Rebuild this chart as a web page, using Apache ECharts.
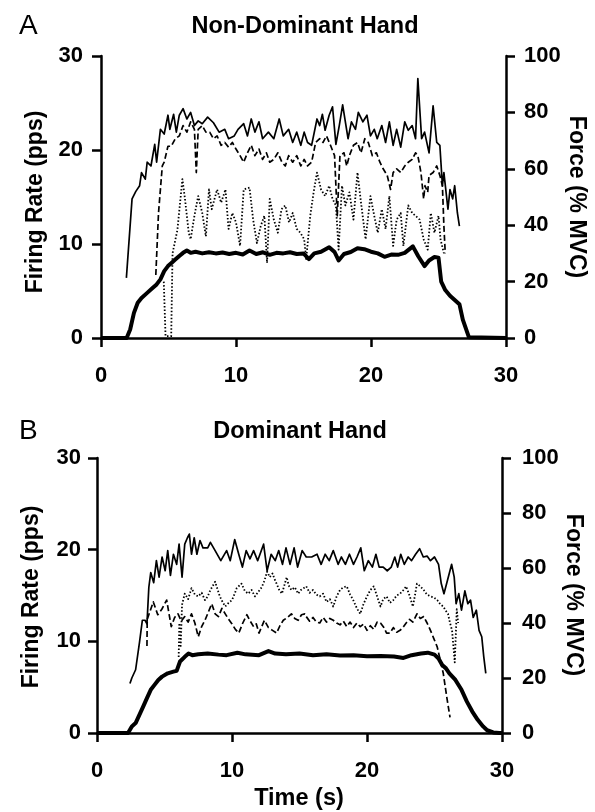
<!DOCTYPE html>
<html>
<head>
<meta charset="utf-8">
<script src="https://cdn.jsdelivr.net/npm/echarts@6/dist/echarts.min.js"></script>
<style>
html,body{margin:0;padding:0;background:#fff;}
#chart{width:595px;height:812px;}
</style>
</head>
<body>
<div id="chart"></div>
<script>
// ---------- Data (time s, value) ----------
const xTicks = [0, 10, 20, 30];
const frTicks = [0, 10, 20, 30];
const forceTicks = [0, 20, 40, 60, 80, 100];

// Panel A: Non-Dominant Hand (firing rate pps)
const unit1A = [[1.88,6.4],[2.3,14.8],[2.58,15.6],[2.86,16.2],[3.0,17.6],[3.28,16.9],[3.42,18.7],[3.7,18.3],[3.98,20.6],[4.12,18.7],[4.4,22.2],[4.68,21.7],[4.96,23.7],[5.1,22.2],[5.38,23.8],[5.58,21.9],[5.8,23.7],[6.08,24.4],[6.36,23.3],[6.64,24.0],[6.92,22.6],[7.2,23.1],[7.5,22.8],[7.9,23.5],[8.33,22.9],[8.75,21.9],[9.17,22.2],[9.45,21.2],[9.87,21.5],[10.15,22.2],[10.57,22.8],[10.85,21.5],[11.13,23.3],[11.4,21.9],[11.7,23.0],[11.97,21.2],[12.4,21.9],[12.8,21.2],[13.2,23.3],[13.5,21.5],[13.9,22.2],[14.2,20.8],[14.5,21.9],[14.8,20.5],[15.05,21.9],[15.3,20.8],[15.6,20.5],[16.0,23.3],[16.2,22.6],[16.4,23.8],[16.6,22.1],[16.9,23.7],[17.15,24.6],[17.4,20.6],[17.65,22.6],[17.9,24.8],[18.3,21.2],[18.55,23.0],[18.85,22.2],[19.06,24.0],[19.4,23.0],[19.7,23.7],[19.96,21.5],[20.24,22.2],[20.46,21.2],[20.8,22.6],[21.08,20.8],[21.36,23.0],[21.64,20.5],[21.9,22.2],[22.2,20.3],[22.5,23.0],[22.76,22.1],[23.05,22.6],[23.3,21.2],[23.47,27.6],[23.75,21.2],[23.97,21.9],[24.3,19.7],[24.6,24.7],[24.87,20.8],[25.1,20.5],[25.29,16.2],[25.4,17.6],[25.7,13.7],[25.85,15.8],[26.05,14.8],[26.2,16.2],[26.4,13.3],[26.55,11.9]];
const unit2A = [[4.06,6.7],[4.26,13.3],[4.54,18.3],[4.68,18.7],[4.96,20.4],[5.2,20.4],[5.5,21.2],[5.8,21.5],[6.08,22.6],[6.36,21.9],[6.64,23.0],[6.92,22.2],[7.06,17.6],[7.2,22.2],[7.5,22.6],[7.77,21.9],[8.05,21.9],[8.33,21.2],[8.6,21.5],[8.9,20.5],[9.17,20.8],[9.45,20.3],[9.73,20.8],[10.0,20.1],[10.3,19.4],[10.57,18.7],[10.85,19.7],[11.13,20.5],[11.4,19.4],[11.7,20.1],[11.97,19.0],[12.25,19.7],[12.5,18.7],[12.8,19.0],[13.1,19.7],[13.4,18.7],[13.65,18.3],[13.9,19.4],[14.2,18.7],[14.5,19.4],[14.8,18.3],[15.05,19.0],[15.3,18.3],[15.6,18.7],[15.9,20.8],[16.2,21.2],[16.45,20.8],[16.7,21.5],[17.0,20.5],[17.3,19.4],[17.5,13.0],[17.7,19.4],[18.0,19.7],[18.2,18.3],[18.4,19.4],[18.7,20.5],[19.0,20.8],[19.26,19.7],[19.54,21.2],[19.8,20.8],[20.1,19.4],[20.4,19.7],[20.66,18.7],[20.9,18.0],[21.2,17.3],[21.45,15.8],[21.64,17.6],[21.9,18.0],[22.2,17.6],[22.5,18.3],[22.76,18.7],[23.05,19.0],[23.3,19.7],[23.47,19.4],[23.7,17.6],[23.9,14.8],[24.0,16.2],[24.2,15.5],[24.3,17.3],[24.6,17.6],[24.87,18.3],[25.1,17.3],[25.29,16.2],[25.4,11.9],[25.5,9.0]];
const unit3A = [[4.65,6.0],[4.78,0.2],[5.2,0.2],[5.3,9.0],[5.66,11.5],[6.03,16.9],[6.22,14.8],[6.5,11.2],[6.64,10.5],[6.92,13.0],[7.2,15.1],[7.5,13.3],[7.77,10.8],[8.0,15.8],[8.2,13.7],[8.6,15.8],[8.9,14.4],[9.22,15.8],[9.45,11.6],[9.73,13.3],[10.0,12.3],[10.3,9.8],[10.57,15.8],[11.0,16.0],[11.27,12.6],[11.55,10.1],[11.83,11.9],[12.1,13.0],[12.3,8.0],[12.5,14.8],[12.8,12.6],[13.1,11.2],[13.37,13.7],[13.65,14.1],[13.93,12.3],[14.2,13.3],[14.5,11.6],[14.77,11.2],[15.05,10.5],[15.2,8.4],[15.5,13.0],[15.75,15.5],[16.0,17.6],[16.3,15.8],[16.6,15.1],[16.9,16.2],[17.15,14.8],[17.4,14.1],[17.6,9.4],[17.85,16.2],[18.1,14.1],[18.4,15.5],[18.7,12.6],[19.0,17.6],[19.26,14.4],[19.6,10.5],[19.96,15.1],[20.24,13.0],[20.5,11.2],[20.8,13.7],[21.08,11.6],[21.36,15.1],[21.64,9.8],[21.9,12.6],[22.2,13.3],[22.4,9.8],[22.76,14.1],[23.05,13.3],[23.3,13.0],[23.6,12.6],[23.9,10.5],[24.2,9.4],[24.43,13.3],[24.7,11.2],[25.0,13.0],[25.15,10.5],[25.4,9.0]];
// force % MVC
const forceA = [[0,0],[1.9,0],[2.16,3.0],[2.44,8.9],[2.72,12.5],[3.0,14.2],[3.42,16.0],[3.84,17.8],[4.12,19.0],[4.4,20.8],[4.68,23.7],[4.96,25.5],[5.24,26.7],[5.52,27.9],[5.8,29.1],[6.08,30.2],[6.36,31.0],[6.64,30.2],[7.0,30.6],[7.5,30.0],[8.0,30.4],[8.5,30.0],[9.0,30.3],[9.5,29.8],[10.0,30.2],[10.5,29.6],[11.0,31.0],[11.5,29.8],[12.0,30.4],[12.5,29.5],[13.0,30.2],[13.5,30.0],[14.0,30.4],[14.5,29.8],[15.0,30.0],[15.4,28.0],[15.8,30.0],[16.3,30.6],[16.9,32.2],[17.3,30.5],[17.6,27.5],[18.0,29.8],[18.5,30.5],[19.0,31.8],[19.5,31.5],[20.0,30.6],[20.5,30.0],[21.0,28.8],[21.5,29.6],[22.0,29.5],[22.5,30.2],[23.1,32.5],[23.5,29.0],[23.97,25.5],[24.3,27.5],[24.7,28.7],[25.0,28.5],[25.2,20.0],[25.5,17.0],[25.85,15.0],[26.2,13.5],[26.55,12.0],[26.8,6.5],[27.25,0.3],[30,0]];

// Panel B: Dominant Hand
const unit1B = [[2.44,5.4],[2.58,6.0],[2.86,6.9],[3.14,9.8],[3.36,12.3],[3.56,12.3],[3.7,11.9],[3.84,15.9],[3.98,17.5],[4.2,16.4],[4.4,18.8],[4.6,17.0],[4.82,19.2],[5.05,17.7],[5.24,19.9],[5.44,17.2],[5.66,19.5],[5.9,18.4],[6.08,20.6],[6.3,17.0],[6.5,20.6],[6.7,21.3],[6.84,21.7],[7.0,19.5],[7.2,21.3],[7.4,19.5],[7.63,21.0],[7.85,20.2],[8.2,20.2],[8.4,20.8],[8.75,19.9],[9.17,18.8],[9.6,19.9],[9.87,18.8],[10.2,21.1],[10.5,19.5],[10.77,18.1],[11.05,19.9],[11.33,19.0],[11.6,19.9],[11.9,18.8],[12.34,20.6],[12.6,17.7],[12.9,19.5],[13.2,18.8],[13.46,19.9],[13.74,18.4],[14.0,20.2],[14.3,18.4],[14.6,20.2],[14.86,18.1],[15.2,19.9],[15.5,19.2],[15.9,19.2],[16.3,19.5],[16.6,18.4],[16.9,19.5],[17.2,18.8],[17.5,19.9],[17.86,18.4],[18.1,19.2],[18.4,18.4],[18.7,19.5],[19.0,18.4],[19.26,19.2],[19.54,20.2],[19.8,17.7],[20.1,18.8],[20.4,18.1],[20.66,19.5],[20.9,18.1],[21.2,18.1],[21.5,17.7],[21.8,18.1],[22.06,19.2],[22.27,18.1],[22.5,19.5],[22.76,18.4],[23.05,19.2],[23.3,18.8],[23.6,19.5],[23.9,20.1],[24.17,19.2],[24.45,19.3],[24.7,18.8],[25.0,19.2],[25.3,18.4],[25.5,16.3],[25.7,15.2],[25.9,16.3],[26.27,18.4],[26.46,17.0],[26.6,14.1],[26.8,15.2],[27.0,13.4],[27.25,15.5],[27.47,14.1],[27.67,14.5],[27.87,12.6],[28.1,13.4],[28.3,11.2],[28.5,10.5],[28.65,8.3],[28.8,6.5]];
const unit2B = [[3.7,9.5],[3.72,12.4],[3.84,12.6],[4.17,14.3],[4.5,12.9],[4.8,13.5],[5.16,14.5],[5.5,11.6],[5.75,12.6],[6.0,13.0],[6.25,12.2],[6.5,12.7],[6.75,12.1],[7.0,13.0],[7.25,12.0],[7.5,10.5],[7.75,11.6],[8.0,12.3],[8.25,13.2],[8.5,14.1],[8.75,13.0],[9.0,12.7],[9.25,13.6],[9.5,13.0],[9.75,12.4],[10.0,11.9],[10.25,11.3],[10.5,10.9],[10.8,12.0],[11.1,12.9],[11.35,12.2],[11.6,11.6],[11.8,11.9],[12.0,10.9],[12.2,11.6],[12.4,12.3],[12.7,11.5],[13.0,11.2],[13.3,10.9],[13.55,11.7],[13.8,12.3],[14.1,12.6],[14.4,13.0],[14.65,12.5],[14.9,12.3],[15.15,12.9],[15.4,13.0],[15.5,12.7],[15.75,12.2],[16.0,12.6],[16.25,12.1],[16.5,12.0],[16.75,12.6],[17.0,12.1],[17.25,12.5],[17.5,12.3],[17.75,12.0],[18.0,11.8],[18.25,12.2],[18.5,11.6],[18.75,12.1],[19.0,11.5],[19.25,12.0],[19.5,11.6],[19.75,11.9],[20.0,11.2],[20.25,11.7],[20.5,11.3],[20.75,12.1],[21.0,12.0],[21.25,11.5],[21.45,10.9],[21.7,10.9],[21.95,11.5],[22.2,11.0],[22.45,11.2],[22.7,11.6],[22.9,12.0],[23.15,12.4],[23.4,12.1],[23.7,13.0],[23.95,12.5],[24.2,12.7],[24.45,12.0],[24.7,11.2],[24.95,10.3],[25.2,9.4],[25.45,7.8],[25.65,6.5],[25.9,4.0],[26.15,1.7]];
const unit3B = [[6.05,8.3],[6.1,12.0],[6.2,9.5],[6.3,14.0],[6.5,15.2],[6.75,14.6],[7.0,15.8],[7.25,15.1],[7.5,14.9],[7.75,15.3],[8.0,14.5],[8.2,14.9],[8.4,15.6],[8.75,16.5],[8.9,15.8],[9.1,14.9],[9.3,14.3],[9.5,13.8],[9.75,14.2],[10.0,14.5],[10.2,15.2],[10.35,15.8],[10.7,16.3],[10.95,15.5],[11.2,15.2],[11.45,15.6],[11.7,14.9],[11.95,15.4],[12.2,15.9],[12.4,16.6],[12.6,17.6],[12.8,17.0],[13.0,17.4],[13.15,16.8],[13.3,16.3],[13.5,15.6],[13.7,15.2],[14.05,17.0],[14.2,16.1],[14.4,15.6],[14.65,15.9],[14.9,15.2],[15.1,15.6],[15.3,15.8],[15.5,16.0],[15.75,15.3],[16.0,15.6],[16.25,15.1],[16.5,14.9],[16.75,15.2],[17.0,14.3],[17.25,14.6],[17.5,13.8],[17.75,14.9],[18.0,15.6],[18.25,15.9],[18.5,16.0],[18.75,15.1],[18.98,14.5],[19.25,13.6],[19.5,13.0],[19.75,14.1],[20.0,14.9],[20.25,15.6],[20.5,16.0],[20.75,14.9],[21.0,13.8],[21.2,14.6],[21.45,14.9],[21.7,14.2],[21.95,14.5],[22.2,15.0],[22.45,15.2],[22.7,15.6],[22.9,16.0],[23.15,15.0],[23.4,13.8],[23.55,15.0],[23.7,16.3],[23.95,16.0],[24.2,15.6],[24.45,15.1],[24.7,14.9],[24.95,14.8],[25.2,14.5],[25.45,14.0],[25.65,13.8],[25.85,13.3],[26.0,13.0],[26.15,12.0],[26.3,11.2],[26.5,7.7],[26.65,13.5],[26.75,12.0]];
const forceB = [[0,0],[2.3,0],[2.58,2.4],[2.86,3.6],[3.14,6.6],[3.42,9.6],[3.7,12.7],[3.98,15.7],[4.26,17.5],[4.54,19.3],[4.82,20.5],[5.24,21.7],[5.66,22.3],[5.9,22.6],[6.15,26.0],[6.5,27.7],[6.78,28.9],[7.06,28.3],[7.5,28.6],[8.2,28.9],[9.0,28.5],[9.6,28.3],[10.4,29.2],[11.0,28.6],[12.0,28.3],[12.7,29.8],[13.2,28.9],[14.0,28.6],[15.0,28.9],[16.0,28.3],[17.0,28.6],[18.0,28.2],[19.0,28.3],[20.0,27.9],[21.0,28.0],[22.0,27.8],[22.7,27.3],[23.3,28.3],[24.0,28.9],[24.5,29.2],[25.0,28.5],[25.3,27.1],[25.57,24.7],[25.85,23.5],[26.1,21.7],[26.55,19.3],[27.0,15.7],[27.4,11.4],[27.8,7.8],[28.2,4.8],[28.6,2.4],[28.9,1.0],[29.35,0.2],[29.8,0],[30,0]];

// ---------- Chart ----------
const FONT = '"Liberation Sans", Arial, Helvetica, sans-serif';
const chart = echarts.init(document.getElementById('chart'), null, {renderer: 'canvas'});

function xAxis(gi) {
  return {
    type: 'value', gridIndex: gi, min: 0, max: 30, interval: 10,
    axisLine: {show: true, onZero: false, lineStyle: {color: '#000', width: 2.5}},
    axisTick: {show: true, length: 9, lineStyle: {color: '#000', width: 2.5},
      customValues: xTicks},
    axisLabel: {show: true, margin: 27, color: '#000', fontFamily: FONT, fontWeight: 'bold', fontSize: 22,
      customValues: xTicks},
    splitLine: {show: false}
  };
}
function yAxis(gi, pos, max, interval, ticks, margin) {
  return {
    type: 'value', gridIndex: gi, position: pos, min: 0, max: max, interval: interval,
    axisLine: {show: true, onZero: false, lineStyle: {color: '#000', width: 2.5}},
    axisTick: {show: true, length: 9, lineStyle: {color: '#000', width: 2.5}},
    axisLabel: {show: true, margin: margin, color: '#000', fontFamily: FONT, fontWeight: 'bold', fontSize: 22},
    splitLine: {show: false}
  };
}

function line(data, xi, yi, type, width) {
  return {
    type: 'line', data: data, xAxisIndex: xi, yAxisIndex: yi,
    showSymbol: false, symbol: 'none', animation: false, silent: true,
    lineStyle: {color: '#000', width: width, type: type, cap: 'butt', join: 'round'}
  };
}

function txt(text, x, y, size, weight, rot, align) {
  const a = align || 'center';
  return {
    type: 'text', x: x, y: y, rotation: rot || 0, silent: true,
    style: {
      text: text, fill: '#000',
      font: weight + ' ' + size + 'px ' + FONT,
      fontFamily: FONT, fontSize: size, fontWeight: weight,
      textAlign: a, textVerticalAlign: 'middle',
      align: a, verticalAlign: 'middle'
    }
  };
}

chart.setOption({
  backgroundColor: '#fff',
  animation: false,
  grid: [
    {left: 101, width: 405, top: 56, height: 282},
    {left: 97, width: 405, top: 458, height: 275}
  ],
  xAxis: [xAxis(0), xAxis(1)],
  yAxis: [
    yAxis(0, 'left', 30, 10, frTicks, 18),
    yAxis(0, 'right', 100, 20, forceTicks, 18),
    yAxis(1, 'left', 30, 10, frTicks, 16),
    yAxis(1, 'right', 100, 20, forceTicks, 20)
  ],
  series: [
    line(unit1A, 0, 0, 'solid', 1.7),
    line(unit2A, 0, 0, [6, 3], 1.7),
    line(unit3A, 0, 0, [1.5, 2], 1.8),
    line(forceA, 0, 1, 'solid', 4),
    line(unit1B, 1, 2, 'solid', 1.7),
    line(unit2B, 1, 2, [6, 3], 1.7),
    line(unit3B, 1, 2, [1.5, 2], 1.8),
    line(forceB, 1, 3, 'solid', 4)
  ],
  graphic: [
    txt('A', 19, 26, 28, 'normal', 0, 'left'),
    txt('Non-Dominant Hand', 305, 27, 23.5, 'bold'),
    txt('Firing Rate (pps)', 36, 202, 23, 'bold', Math.PI / 2),
    txt('Force (% MVC)', 576, 197, 23, 'bold', -Math.PI / 2),
    txt('B', 19, 431, 28, 'normal', 0, 'left'),
    txt('Dominant Hand', 300, 432, 23.5, 'bold'),
    txt('Firing Rate (pps)', 32, 597, 23, 'bold', Math.PI / 2),
    txt('Force (% MVC)', 573, 595, 23, 'bold', -Math.PI / 2),
    txt('Time (s)', 299, 799, 23.5, 'bold')
  ]
});
</script>
</body>
</html>
